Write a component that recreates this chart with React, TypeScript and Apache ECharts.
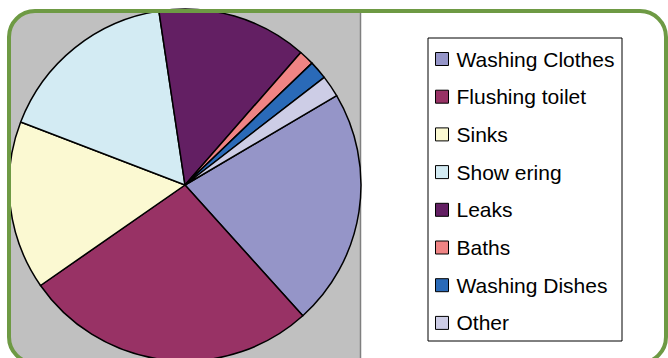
import React, { useEffect, useRef } from "react";
import * as echarts from "echarts";

const categories = [
  "Washing Clothes",
  "Flushing toilet",
  "Sinks",
  "Show ering",
  "Leaks",
  "Baths",
  "Washing Dishes",
  "Other",
];
const values = [21.8, 27.0, 15.5, 16.8, 13.8, 1.4, 1.7, 2.0];
const colors = [
  "#9595C8",
  "#983265",
  "#FBF9D2",
  "#D3EBF3",
  "#631F63",
  "#F08484",
  "#2A6AB8",
  "#CDCDE6",
];

export default function App() {
  const ref = useRef<HTMLDivElement>(null);
  useEffect(() => {
    if (!ref.current) return;
    const chart = echarts.init(ref.current, undefined, { renderer: "svg" });
    chart.setOption({
      animation: false,
      color: colors,
      graphic: [
        {
          type: "rect",
          z: 0,
          shape: { x: 10, y: 12, width: 350, height: 352, r: [24, 0, 0, 24] },
          style: { fill: "#C0C0C0" },
        },
        {
          type: "line",
          z: 0,
          shape: { x1: 360.5, y1: 12, x2: 360.5, y2: 358 },
          style: { stroke: "#7f7f7f", lineWidth: 1.5 },
        },
        {
          type: "rect",
          z: 0,
          shape: { x: 428, y: 38, width: 194, height: 303 },
          style: { fill: "#fff", stroke: "#000", lineWidth: 1 },
        },
        {
          type: "rect",
          z: 100,
          shape: { x: 9, y: 11, width: 657, height: 352, r: 26 },
          style: { fill: "none", stroke: "#6E9A44", lineWidth: 4 },
        },
      ],
      legend: {
        orient: "vertical",
        left: 430,
        top: 43,
        itemGap: 15.7,
        itemWidth: 13,
        itemHeight: 13,
        icon: "rect",
        selectedMode: false,
        itemStyle: { borderColor: "#000", borderWidth: 1 },
        textStyle: {
          fontFamily: "'Liberation Sans', Arial, sans-serif",
          fontSize: 21,
          lineHeight: 22,
          color: "#000",
          padding: [0, 0, 0, 3],
        },
        data: categories,
      },
      series: [
        {
          type: "pie",
          center: [185, 185],
          radius: 176,
          startAngle: 30.5,
          clockwise: true,
          label: { show: false },
          labelLine: { show: false },
          emphasis: { disabled: true },
          itemStyle: { borderColor: "#000", borderWidth: 1.5 },
          data: categories.map((name, i) => ({ name, value: values[i] })),
        },
      ],
    });
    return () => chart.dispose();
  }, []);
  return (
    <div
      ref={ref}
      style={{ position: "fixed", left: 0, top: 0, width: 668, height: 358, background: "#fff" }}
    />
  );
}
